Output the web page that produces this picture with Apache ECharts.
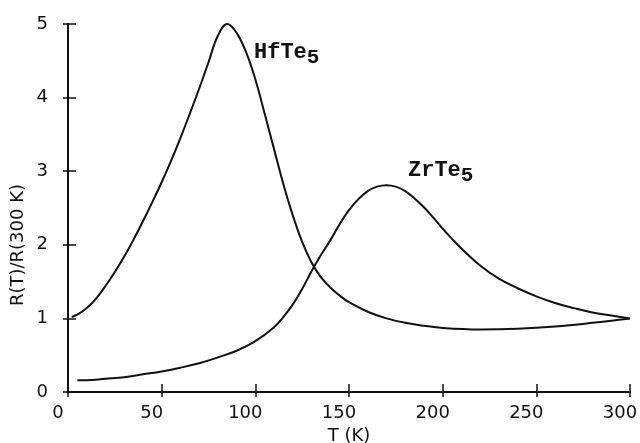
<!DOCTYPE html>
<html>
<head>
<meta charset="utf-8">
<script src="https://cdn.jsdelivr.net/npm/echarts@6/dist/echarts.min.js"></script>
<style>
  html, body { margin: 0; padding: 0; background: #fff; }
  #chart { width: 640px; height: 443px; }
</style>
</head>
<body>
<div id="chart"></div>
<script>
// temperatures (K) and R(T)/R(300 K)
let hfT = [2, 5, 10, 15, 20, 25, 30, 35, 40, 45, 50, 55, 60, 65, 70, 75, 80, 85, 90, 95, 100, 105, 110, 115, 120, 125, 130, 135, 140, 145, 150, 160, 170, 180, 190, 200, 220, 240, 260, 280, 300];
let hfR = [1.02, 1.05, 1.14, 1.27, 1.44, 1.63, 1.84, 2.07, 2.32, 2.58, 2.85, 3.14, 3.45, 3.78, 4.12, 4.48, 4.84, 5.0, 4.88, 4.62, 4.25, 3.78, 3.3, 2.82, 2.4, 2.04, 1.76, 1.56, 1.42, 1.31, 1.22, 1.09, 1.0, 0.94, 0.9, 0.87, 0.85, 0.86, 0.89, 0.94, 1.0];

let zrT = [5, 10, 20, 30, 40, 50, 60, 70, 80, 90, 100, 110, 115, 120, 125, 130, 135, 140, 145, 150, 155, 160, 165, 170, 175, 180, 185, 190, 195, 200, 205, 210, 220, 230, 240, 250, 260, 270, 280, 290, 300];
let zrR = [0.16, 0.16, 0.18, 0.2, 0.24, 0.28, 0.33, 0.39, 0.47, 0.56, 0.69, 0.88, 1.02, 1.19, 1.4, 1.64, 1.86, 2.06, 2.28, 2.47, 2.62, 2.73, 2.79, 2.81, 2.79, 2.73, 2.63, 2.51, 2.37, 2.22, 2.08, 1.95, 1.72, 1.54, 1.41, 1.3, 1.21, 1.14, 1.08, 1.04, 1.0];

let xTicks = [0, 50, 100, 150, 200, 250, 300];
let yTicks = [0, 1, 2, 3, 4, 5];

let pairs = function(xs, ys){
  return xs.map(function(x, i){ return [x, ys[i]]; });
};

let chart = echarts.init(document.getElementById('chart'));

let lineAx = { show: true, lineStyle: { color: '#111', width: 2 } };
let tickAx = { show: true, inside: true, length: 8, lineStyle: { color: '#111', width: 1.5 } };
let tickSm = { show: true, inside: true, length: 5, lineStyle: { color: '#111', width: 1.5 } };
let lblFont = 'DejaVu Sans';

let option = {
  backgroundColor: '#fff',
  animation: false,
  grid: { left: 68, right: 10, top: 24, bottom: 51, containLabel: false, outerBoundsMode: 'none' },
  xAxis: [
    {
      type: 'value', min: 0, max: 300, interval: 50,
      axisLine: lineAx, axisTick: tickAx, splitLine: { show: false },
      axisLabel: {
        color: '#111', fontFamily: lblFont, fontSize: 18, margin: 12,
        padding: [0, 20, 0, 0],
        formatter: function(v){ return xTicks.indexOf(v) >= 0 ? String(v) : ''; }
      },
      name: 'T (K)', nameLocation: 'middle', nameGap: 33,
      nameTextStyle: { color: '#111', fontFamily: lblFont, fontSize: 18 }
    },
    {
      type: 'value', position: 'top', min: 0, max: 300, interval: 50,
      axisLine: lineAx, axisTick: tickSm,
      axisLabel: { show: false }, splitLine: { show: false }
    }
  ],
  yAxis: [
    {
      type: 'value', min: 0, max: 5, interval: 1,
      axisLine: lineAx, axisTick: tickAx, splitLine: { show: false },
      axisLabel: {
        color: '#111', fontFamily: lblFont, fontSize: 18, margin: 20,
        formatter: function(v){ return yTicks.indexOf(v) >= 0 ? String(v) : ''; }
      }
    },
    {
      type: 'value', position: 'right', min: 0, max: 5, interval: 1,
      axisLine: lineAx, axisTick: tickSm,
      axisLabel: { show: false }, splitLine: { show: false }
    }
  ],
  series: [
    {
      name: 'HfTe5', type: 'line', smooth: 0.4, showSymbol: false,
      lineStyle: { color: '#111', width: 2 },
      data: pairs(hfT, hfR)
    },
    {
      name: 'ZrTe5', type: 'line', smooth: 0.4, showSymbol: false,
      lineStyle: { color: '#111', width: 2 },
      data: pairs(zrT, zrR)
    }
  ],
  graphic: [
    {
      type: 'text', left: 9, top: 184, rotation: Math.PI / 2,
      style: { text: 'R(T)/R(300 K)', fill: '#111', font: '18px "DejaVu Sans"' }
    },
    {
      type: 'text', x: 254, y: 37,
      style: {
        text: '{a|HfTe}{b|5}', fill: '#111',
        rich: {
          a: { fontFamily: 'Liberation Mono', fontWeight: 'bold', fontSize: 22, fill: '#111' },
          b: { fontFamily: 'Liberation Mono', fontWeight: 'bold', fontSize: 21, fill: '#111', padding: [10, 0, 0, 0] }
        }
      }
    },
    {
      type: 'text', x: 408, y: 155,
      style: {
        text: '{a|ZrTe}{b|5}', fill: '#111',
        rich: {
          a: { fontFamily: 'Liberation Mono', fontWeight: 'bold', fontSize: 22, fill: '#111' },
          b: { fontFamily: 'Liberation Mono', fontWeight: 'bold', fontSize: 21, fill: '#111', padding: [10, 0, 0, 0] }
        }
      }
    }
  ]
};

chart.setOption(option);
</script>
</body>
</html>
